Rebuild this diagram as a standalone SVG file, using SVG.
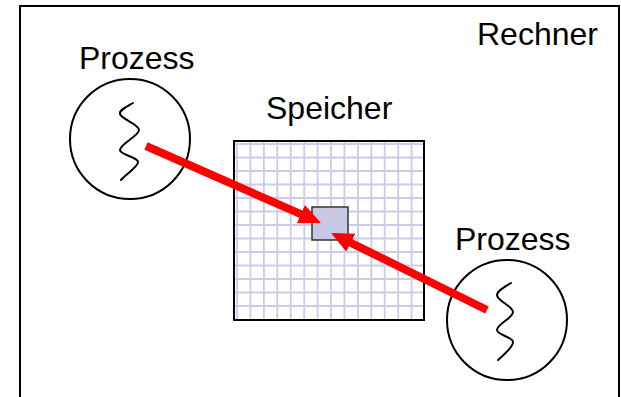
<svg xmlns="http://www.w3.org/2000/svg" width="621" height="397" viewBox="0 0 621 397">
  <style>
    .label { font-family: "Liberation Sans", Arial, sans-serif; font-size: 32px; fill: #000; }
    .outline { fill: none; stroke: #000; stroke-width: 2; }
    .grid line { stroke: #cbcbea; stroke-width: 1.8; }
    .thread { fill: none; stroke: #000; stroke-width: 2; stroke-linecap: round; }
    .access { stroke: #ff0000; stroke-width: 8; fill: none; }
  </style>
  <defs>
    <marker id="head" viewBox="0 0 22 20" markerWidth="22" markerHeight="20" markerUnits="userSpaceOnUse" refX="10" refY="10" orient="auto">
      <path d="M0,0 L22,10 L0,20 z" fill="#ff0000"/>
    </marker>
  </defs>

  <rect width="621" height="397" fill="#fff"/>

  <!-- computer boundary -->
  <g id="rechner">
    <rect class="outline" x="20" y="6" width="599" height="400"/>
    <text class="label" x="477" y="45">Rechner</text>
  </g>

  <!-- shared memory -->
  <g id="speicher">
    <text class="label" x="266" y="119">Speicher</text>
    <rect x="234" y="141" width="190" height="179" fill="#fff"/>
    <g class="grid">
      <line x1="237" y1="141" x2="237" y2="320"/>
      <line x1="250.4" y1="141" x2="250.4" y2="320"/>
      <line x1="263.9" y1="141" x2="263.9" y2="320"/>
      <line x1="277.3" y1="141" x2="277.3" y2="320"/>
      <line x1="290.7" y1="141" x2="290.7" y2="320"/>
      <line x1="304.2" y1="141" x2="304.2" y2="320"/>
      <line x1="317.6" y1="141" x2="317.6" y2="320"/>
      <line x1="331" y1="141" x2="331" y2="320"/>
      <line x1="344.4" y1="141" x2="344.4" y2="320"/>
      <line x1="357.9" y1="141" x2="357.9" y2="320"/>
      <line x1="371.3" y1="141" x2="371.3" y2="320"/>
      <line x1="384.7" y1="141" x2="384.7" y2="320"/>
      <line x1="398.2" y1="141" x2="398.2" y2="320"/>
      <line x1="411.6" y1="141" x2="411.6" y2="320"/>
      <line x1="234" y1="144" x2="424" y2="144"/>
      <line x1="234" y1="157.5" x2="424" y2="157.5"/>
      <line x1="234" y1="171" x2="424" y2="171"/>
      <line x1="234" y1="184.5" x2="424" y2="184.5"/>
      <line x1="234" y1="198" x2="424" y2="198"/>
      <line x1="234" y1="211.5" x2="424" y2="211.5"/>
      <line x1="234" y1="225" x2="424" y2="225"/>
      <line x1="234" y1="238.5" x2="424" y2="238.5"/>
      <line x1="234" y1="252" x2="424" y2="252"/>
      <line x1="234" y1="265.5" x2="424" y2="265.5"/>
      <line x1="234" y1="279" x2="424" y2="279"/>
      <line x1="234" y1="292.5" x2="424" y2="292.5"/>
      <line x1="234" y1="306" x2="424" y2="306"/>
    </g>
    <rect class="outline" x="234" y="141" width="190" height="179"/>
  </g>

  <!-- shared cell -->
  <g id="zelle">
    <rect x="312" y="207" width="36" height="33" fill="#c8c8e4" stroke="#333" stroke-width="1.5"/>
  </g>

  <!-- process 1 -->
  <g id="prozess1">
    <text class="label" x="79" y="69">Prozess</text>
    <circle class="outline" cx="130" cy="139" r="60"/>
    <path class="thread" d="M133,103 C126,107 119,110 120,114 C121,119 139,124 139,130 C139,136 120,144 120,150 C120,155 138,157 138,162 C138,167 126,174 121,180"/>
  </g>

  <!-- process 2 -->
  <g id="prozess2">
    <text class="label" x="455" y="250">Prozess</text>
    <circle class="outline" cx="507" cy="320" r="60"/>
    <path class="thread" d="M511,283 C504,287 497,291 497,295 C497,301 513,306 513,312 C513,318 497,324 497,330 C497,335 513,337 513,342 C513,348 503,355 498,360"/>
  </g>

  <!-- memory accesses -->
  <g id="connectors">
    <line class="access" x1="146" y1="146" x2="310" y2="218.2" marker-end="url(#head)"/>
    <line class="access" x1="487" y1="310" x2="341.8" y2="238.3" marker-end="url(#head)"/>
  </g>
</svg>
